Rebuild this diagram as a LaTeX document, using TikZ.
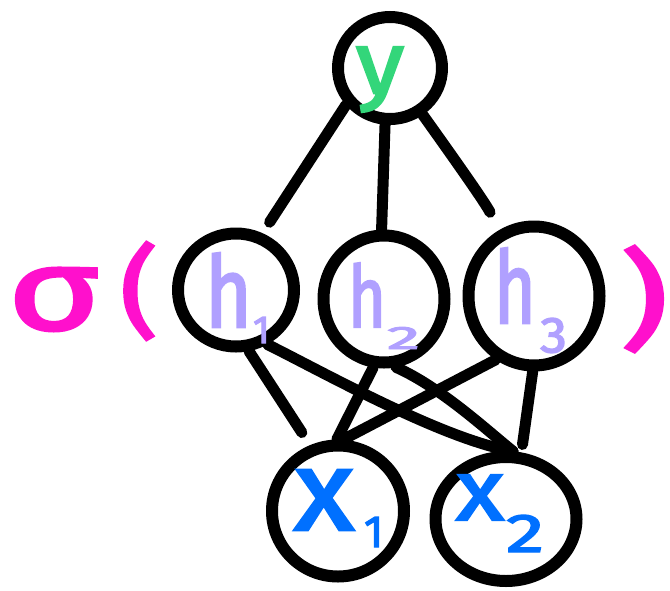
\documentclass[tikz,border=0pt]{standalone}
\usepackage{fontspec}
\setmainfont{Fira Sans}
\newfontfamily\handfont{Fira Sans}[FakeBold=2.6]
\usepackage{graphicx}
\usetikzlibrary{shapes.geometric}
\definecolor{ygreen}{HTML}{33D67A}
\definecolor{hlav}{HTML}{B0A0FF}
\definecolor{xblue}{HTML}{0070FF}
\definecolor{sigmag}{HTML}{FF10CC}
\newcommand{\gl}[3]{\resizebox*{#1}{#2}{\handfont #3}}
\tikzset{
  unit/.style={ellipse, draw=black, line width=12pt, fill=white, inner sep=0pt},
  lab/.style={inner sep=0pt, outer sep=0pt, anchor=south west},
  edge/.style={draw=black, line width=11pt, line cap=round}
}
\begin{document}
\begin{tikzpicture}[x=1pt,y=-1pt]
\useasboundingbox (0,0) rectangle (670,590);
% units
\node[unit, minimum width=104pt, minimum height=102pt] (y) at (390,68) {};
\node[unit, minimum width=116pt, minimum height=113pt] (h1) at (236,290) {};
\node[unit, minimum width=121pt, minimum height=127pt] (h2) at (384,299) {};
\node[unit, minimum width=131pt, minimum height=139pt] (h3) at (534,296) {};
\node[unit, minimum width=132pt, minimum height=131pt] (x1) at (338,511) {};
\node[unit, minimum width=141pt, minimum height=124pt] (x2) at (506,519) {};
% connectors
\draw[edge, shorten >=13pt] (y.-140) -- (h1.65);
\draw[edge] (y.-95) -- (h2.92);
\draw[edge, shorten >=20pt] (y.-55) .. controls +(25,35) and +(-14,-28) .. (h3.118);
\draw[edge, shorten >=15pt] (h1.-78) -- (x1.113);
\draw[edge] (h1.-60) .. controls +(60,30) and +(-70,-12) .. (x2.84);
\draw[edge] (h2.-99) -- (x1.91);
\draw[edge] (h2.-80) .. controls +(45,20) and +(-25,-20) .. (x2.84);
\draw[edge] (h3.-121) -- (x1.86);
\draw[edge, shorten >=8pt] (h3.-91) -- (x2.77);
% labels
\node[lab, text=ygreen] (ly) at (356,112) {\gl{48pt}{65pt}{y}};
\node[lab, text=hlav] (lh1) at (205,327) {\gl{47pt}{74pt}{h}};
\node[lab, text=hlav] (lh1s) at (253,343) {\gl{!}{26pt}{1}};
\node[lab, text=hlav] (lh2) at (348,327) {\gl{38pt}{64pt}{h}};
\node[lab, text=hlav] (lh2s) at (387,349) {\gl{33pt}{22pt}{2}};
\node[lab, text=hlav] (lh3) at (494,323) {\gl{42pt}{75pt}{h}};
\node[lab, text=hlav] (lh3s) at (540,353) {\gl{27pt}{35pt}{3}};
\node[lab, text=xblue] (lx1) at (294,530) {\gl{60pt}{60pt}{x}};
\node[lab, text=xblue] (lx1s) at (364,547) {\gl{!}{30pt}{1}};
\node[lab, text=xblue] (lx2) at (456,520) {\gl{48pt}{45pt}{x}};
\node[lab, text=xblue] (lx2s) at (506,552) {\gl{38pt}{37pt}{2}};
\node[lab, text=sigmag] (sig) at (8,331) {\gl{92pt}{63pt}{σ}};
\node[lab, text=sigmag] (lpar) at (120,340) {\gl{38pt}{98pt}{(}};
\node[lab, text=sigmag] (rpar) at (620,352) {\gl{48pt}{106pt}{)}};
\end{tikzpicture}
\end{document}
